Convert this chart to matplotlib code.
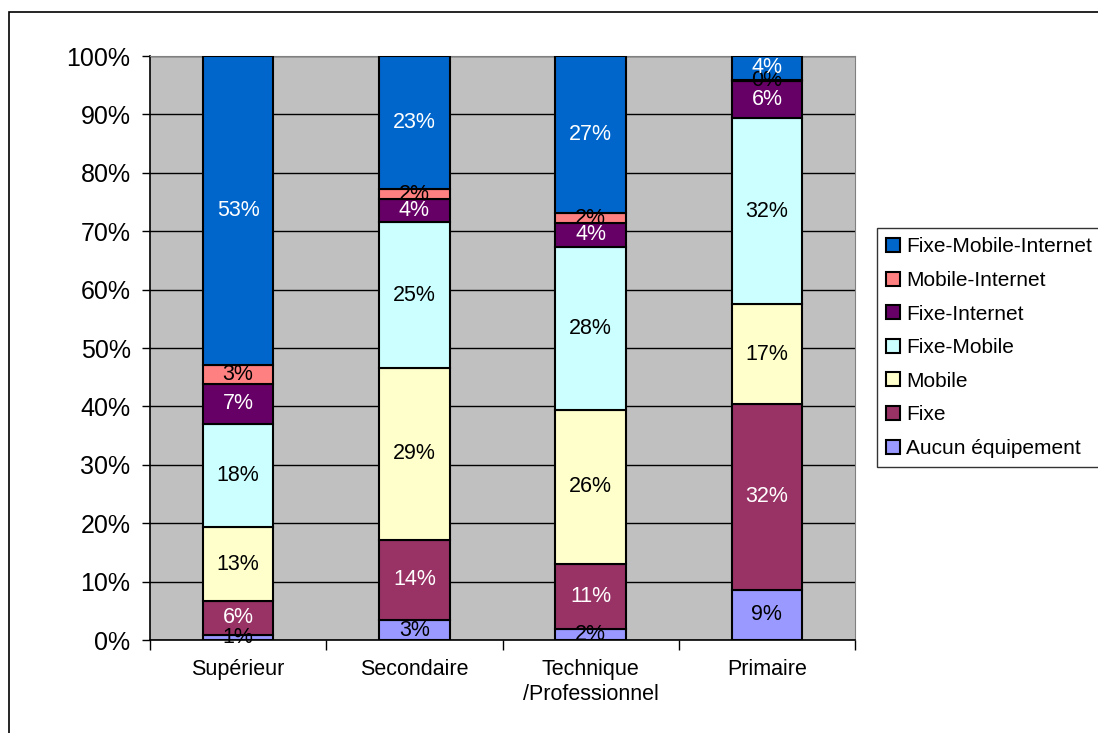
import matplotlib.pyplot as plt
from matplotlib.patches import Rectangle
import numpy as np

plt.rcParams['font.family'] = ['Liberation Sans', 'DejaVu Sans']

# categories on x axis
categories = ['Supérieur', 'Secondaire', 'Technique\n/Professionnel', 'Primaire']

# series, bottom to top of the stack (percent)
series_names = ['Aucun équipement', 'Fixe', 'Mobile', 'Fixe-Mobile',
                'Fixe-Internet', 'Mobile-Internet', 'Fixe-Mobile-Internet']
aucun = [0.9, 3.4, 1.9, 8.6]
fixe = [5.8, 13.8, 11.1, 31.8]
mobile = [12.6, 29.3, 26.4, 17.1]
fixe_mobile = [17.7, 25.0, 27.9, 31.9]
fixe_internet = [6.9, 4.0, 4.1, 6.3]
mobile_internet = [3.2, 1.7, 1.7, 0.2]
fixe_mobile_internet = [52.9, 22.8, 26.9, 4.1]

values = [aucun, fixe, mobile, fixe_mobile, fixe_internet,
          mobile_internet, fixe_mobile_internet]
colors = ['#9999FF', '#993366', '#FFFFCC', '#CCFFFF',
          '#660066', '#FF8080', '#0066CC']
text_colors = ['black', 'white', 'black', 'black', 'white', 'black', 'white']

fig = plt.figure(figsize=(10.98, 7.33), dpi=100)
ax = fig.add_axes([150/1098, 1 - 640/733, 705/1098, 584/733])
ax.set_facecolor('#C0C0C0')

x = np.arange(len(categories))
bottom = np.zeros(len(categories))
handles = []
for name, vals, col, tcol in zip(series_names, values, colors, text_colors):
    vals = np.array(vals)
    b = ax.bar(x, vals, 0.4, bottom=bottom, color=col, edgecolor='black',
               linewidth=1.5, zorder=3, label=name)
    handles.append(b)
    for xi, v, bt in zip(x, vals, bottom):
        ax.text(xi, bt + v / 2, f'{round(v)}%', ha='center', va='center',
                fontsize=15.5, color=tcol, zorder=4)
    bottom += vals

ax.set_xlim(-0.5, len(categories) - 0.5)
ax.set_ylim(0, 100)
ax.set_yticks(np.arange(0, 101, 10))
ax.set_yticklabels([f'{v}%' for v in range(0, 101, 10)], fontsize=18)
ax.yaxis.grid(True, color='black', linewidth=1, zorder=0)
ax.set_axisbelow(True)
ax.tick_params(axis='y', direction='out', length=6, width=1, pad=8)

ax.set_xticks(x)
ax.set_xticklabels(categories, fontsize=15.5, linespacing=1.25)
ax.set_xticks(np.arange(-0.5, len(categories), 1), minor=True)
ax.tick_params(axis='x', which='major', length=0, pad=14)
ax.tick_params(axis='x', which='minor', direction='out', length=7, width=1)

ax.spines['left'].set_color('black')
ax.spines['bottom'].set_color('black')
ax.spines['left'].set_linewidth(1.2)
ax.spines['bottom'].set_linewidth(1.2)
ax.spines['top'].set_color('#808080')
ax.spines['right'].set_color('#808080')

leg = fig.legend(handles[::-1], series_names[::-1], loc='upper left',
                 bbox_to_anchor=(877/1098, 1 - 228/733), fontsize=15,
                 frameon=True, fancybox=False, edgecolor='black',
                 handlelength=0.65, handleheight=0.65, handletextpad=0.3,
                 labelspacing=0.7, borderpad=0.45, borderaxespad=0)
leg.get_frame().set_linewidth(1)

# outer chart border
fig.patches.append(Rectangle((9/1098, -0.05), 1.1, 1 - 12/733 + 0.05,
                             transform=fig.transFigure, fill=False,
                             edgecolor='black', linewidth=1.2))

fig.savefig('out.png', dpi=100)
